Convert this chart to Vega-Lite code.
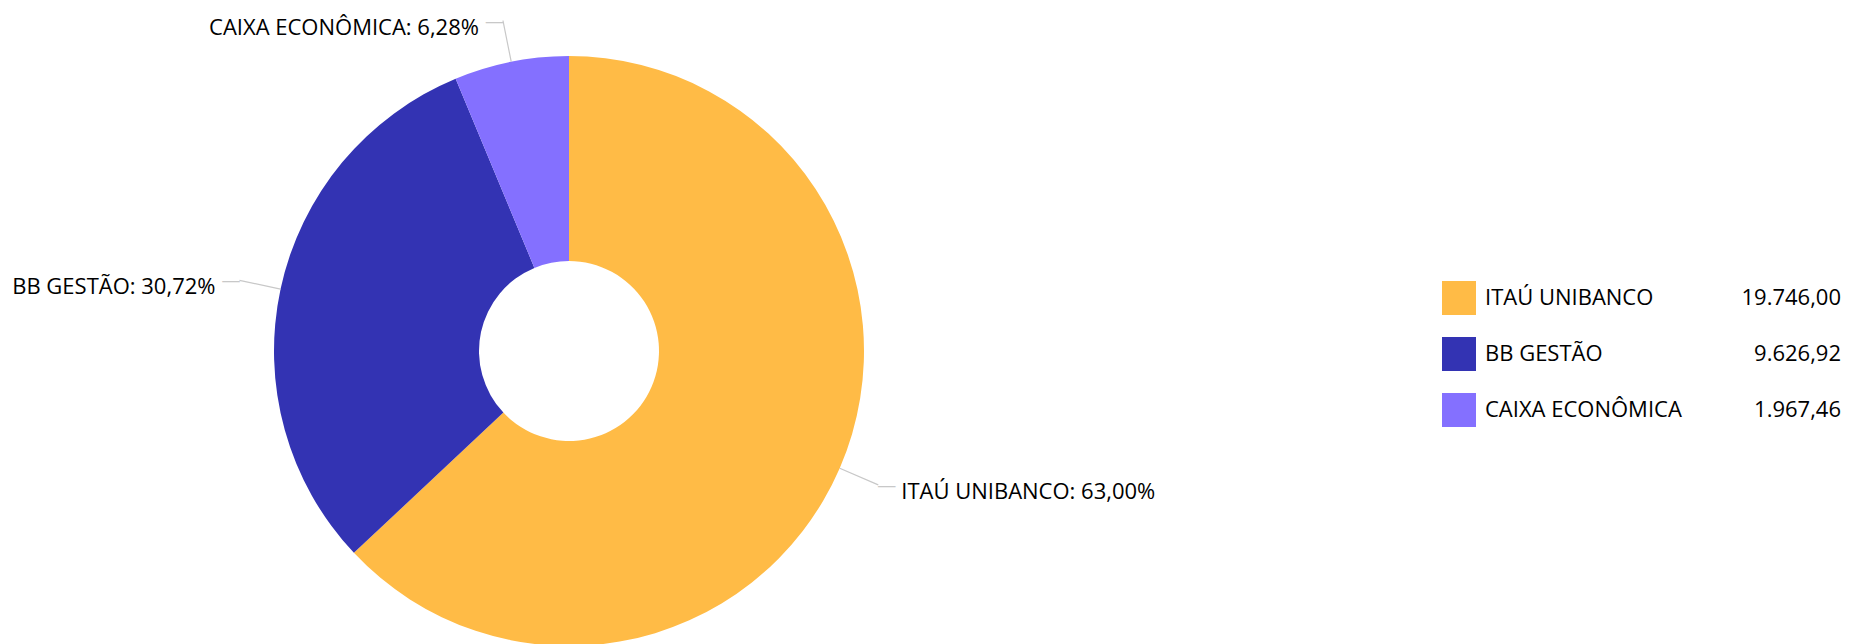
{
  "$schema": "https://vega.github.io/schema/vega-lite/v6.json",
  "width": 1138,
  "height": 586,
  "autosize": {"type": "none"},
  "padding": {"top": 58, "left": 0, "right": 712, "bottom": 0},
  "background": "white",
  "data": {
    "values": [
      {"nome": "ITAÚ UNIBANCO", "valor": 19746.00, "rotulo": "ITAÚ UNIBANCO: 63,00%"},
      {"nome": "BB GESTÃO", "valor": 9626.92, "rotulo": "BB GESTÃO: 30,72%"},
      {"nome": "CAIXA ECONÔMICA", "valor": 1967.46, "rotulo": "CAIXA ECONÔMICA: 6,28%"}
    ]
  },
  "config": {
    "view": {"stroke": null},
    "font": "Open Sans",
    "locale": {"number": {"decimal": ",", "thousands": ".", "grouping": [3], "currency": ["R$ ", ""]}}
  },
  "layer": [
    {
      "mark": {"type": "arc", "innerRadius": 90, "outerRadius": 295},
      "encoding": {
        "theta": {"field": "valor", "type": "quantitative", "stack": true},
        "order": {"field": "valor", "type": "quantitative", "sort": "descending"},
        "color": {
          "field": "nome",
          "type": "nominal",
          "scale": {
            "domain": ["ITAÚ UNIBANCO", "BB GESTÃO", "CAIXA ECONÔMICA"],
            "range": ["#FFBB46", "#3333B3", "#8470FF"]
          },
          "legend": {
            "orient": "none",
            "legendX": 1442,
            "legendY": 223,
            "title": null,
            "padding": 0,
            "symbolType": "square",
            "symbolSize": 1156,
            "symbolStrokeWidth": 0,
            "rowPadding": 22,
            "labelOffset": 9,
            "labelFontSize": 22,
            "labelFont": "Open Sans",
            "labelColor": "#000000",
            "labelLimit": 400
          }
        }
      }
    },
    {
      "transform": [
        {"stack": "valor", "groupby": [], "sort": [{"field": "valor", "order": "descending"}], "as": ["v0", "v1"]},
        {"fold": ["v0", "v1"], "as": ["k", "v"]},
        {"aggregate": [{"op": "mean", "field": "v", "as": "meio"}], "groupby": ["nome"]}
      ],
      "mark": {"type": "arc", "innerRadius": 295, "outerRadius": 337, "stroke": "#c8c8c8", "strokeWidth": 1.2, "fillOpacity": 0},
      "encoding": {
        "theta": {"field": "meio", "type": "quantitative"},
        "theta2": {"field": "meio"}
      }
    },
    {
      "mark": {"type": "text", "radius": 337, "align": "left", "baseline": "middle", "dx": -1, "dy": 1, "fontSize": 19, "font": "Open Sans", "fill": "#c8c8c8"},
      "encoding": {
        "theta": {"field": "valor", "type": "quantitative", "stack": true},
        "order": {"field": "valor", "type": "quantitative", "sort": "descending"},
        "detail": {"field": "nome", "type": "nominal"},
        "text": {"condition": {"test": "datum.nome === 'ITAÚ UNIBANCO'", "value": "—"}, "value": ""}
      }
    },
    {
      "mark": {"type": "text", "radius": 337, "align": "right", "baseline": "middle", "dx": 1, "dy": 1, "fontSize": 19, "font": "Open Sans", "fill": "#c8c8c8"},
      "encoding": {
        "theta": {"field": "valor", "type": "quantitative", "stack": true},
        "order": {"field": "valor", "type": "quantitative", "sort": "descending"},
        "detail": {"field": "nome", "type": "nominal"},
        "text": {"condition": {"test": "datum.nome !== 'ITAÚ UNIBANCO'", "value": "—"}, "value": ""}
      }
    },
    {
      "mark": {"type": "text", "radius": 337, "align": "left", "baseline": "middle", "dx": 23, "dy": 7, "fontSize": 22, "font": "Open Sans", "fill": "#000000"},
      "encoding": {
        "theta": {"field": "valor", "type": "quantitative", "stack": true},
        "order": {"field": "valor", "type": "quantitative", "sort": "descending"},
        "detail": {"field": "nome", "type": "nominal"},
        "text": {"condition": {"test": "datum.nome === 'ITAÚ UNIBANCO'", "field": "rotulo", "type": "nominal"}, "value": ""}
      }
    },
    {
      "mark": {"type": "text", "radius": 337, "align": "right", "baseline": "middle", "dx": -24, "dy": 7, "fontSize": 22, "font": "Open Sans", "fill": "#000000"},
      "encoding": {
        "theta": {"field": "valor", "type": "quantitative", "stack": true},
        "order": {"field": "valor", "type": "quantitative", "sort": "descending"},
        "detail": {"field": "nome", "type": "nominal"},
        "text": {"condition": {"test": "datum.nome !== 'ITAÚ UNIBANCO'", "field": "rotulo", "type": "nominal"}, "value": ""}
      }
    },
    {
      "mark": {"type": "point", "opacity": 0},
      "encoding": {
        "shape": {
          "field": "valor",
          "type": "nominal",
          "sort": "descending",
          "legend": {
            "orient": "none",
            "legendX": 1807,
            "legendY": 223,
            "title": null,
            "padding": 0,
            "symbolSize": 1156,
            "symbolOpacity": 0,
            "symbolStrokeWidth": 0,
            "rowPadding": 22,
            "labelOffset": 0,
            "labelAlign": "right",
            "labelFontSize": 22,
            "labelFont": "Open Sans",
            "labelColor": "#000000",
            "labelLimit": 400,
            "labelExpr": "format(datum.value, ',.2f')"
          }
        }
      }
    }
  ]
}
